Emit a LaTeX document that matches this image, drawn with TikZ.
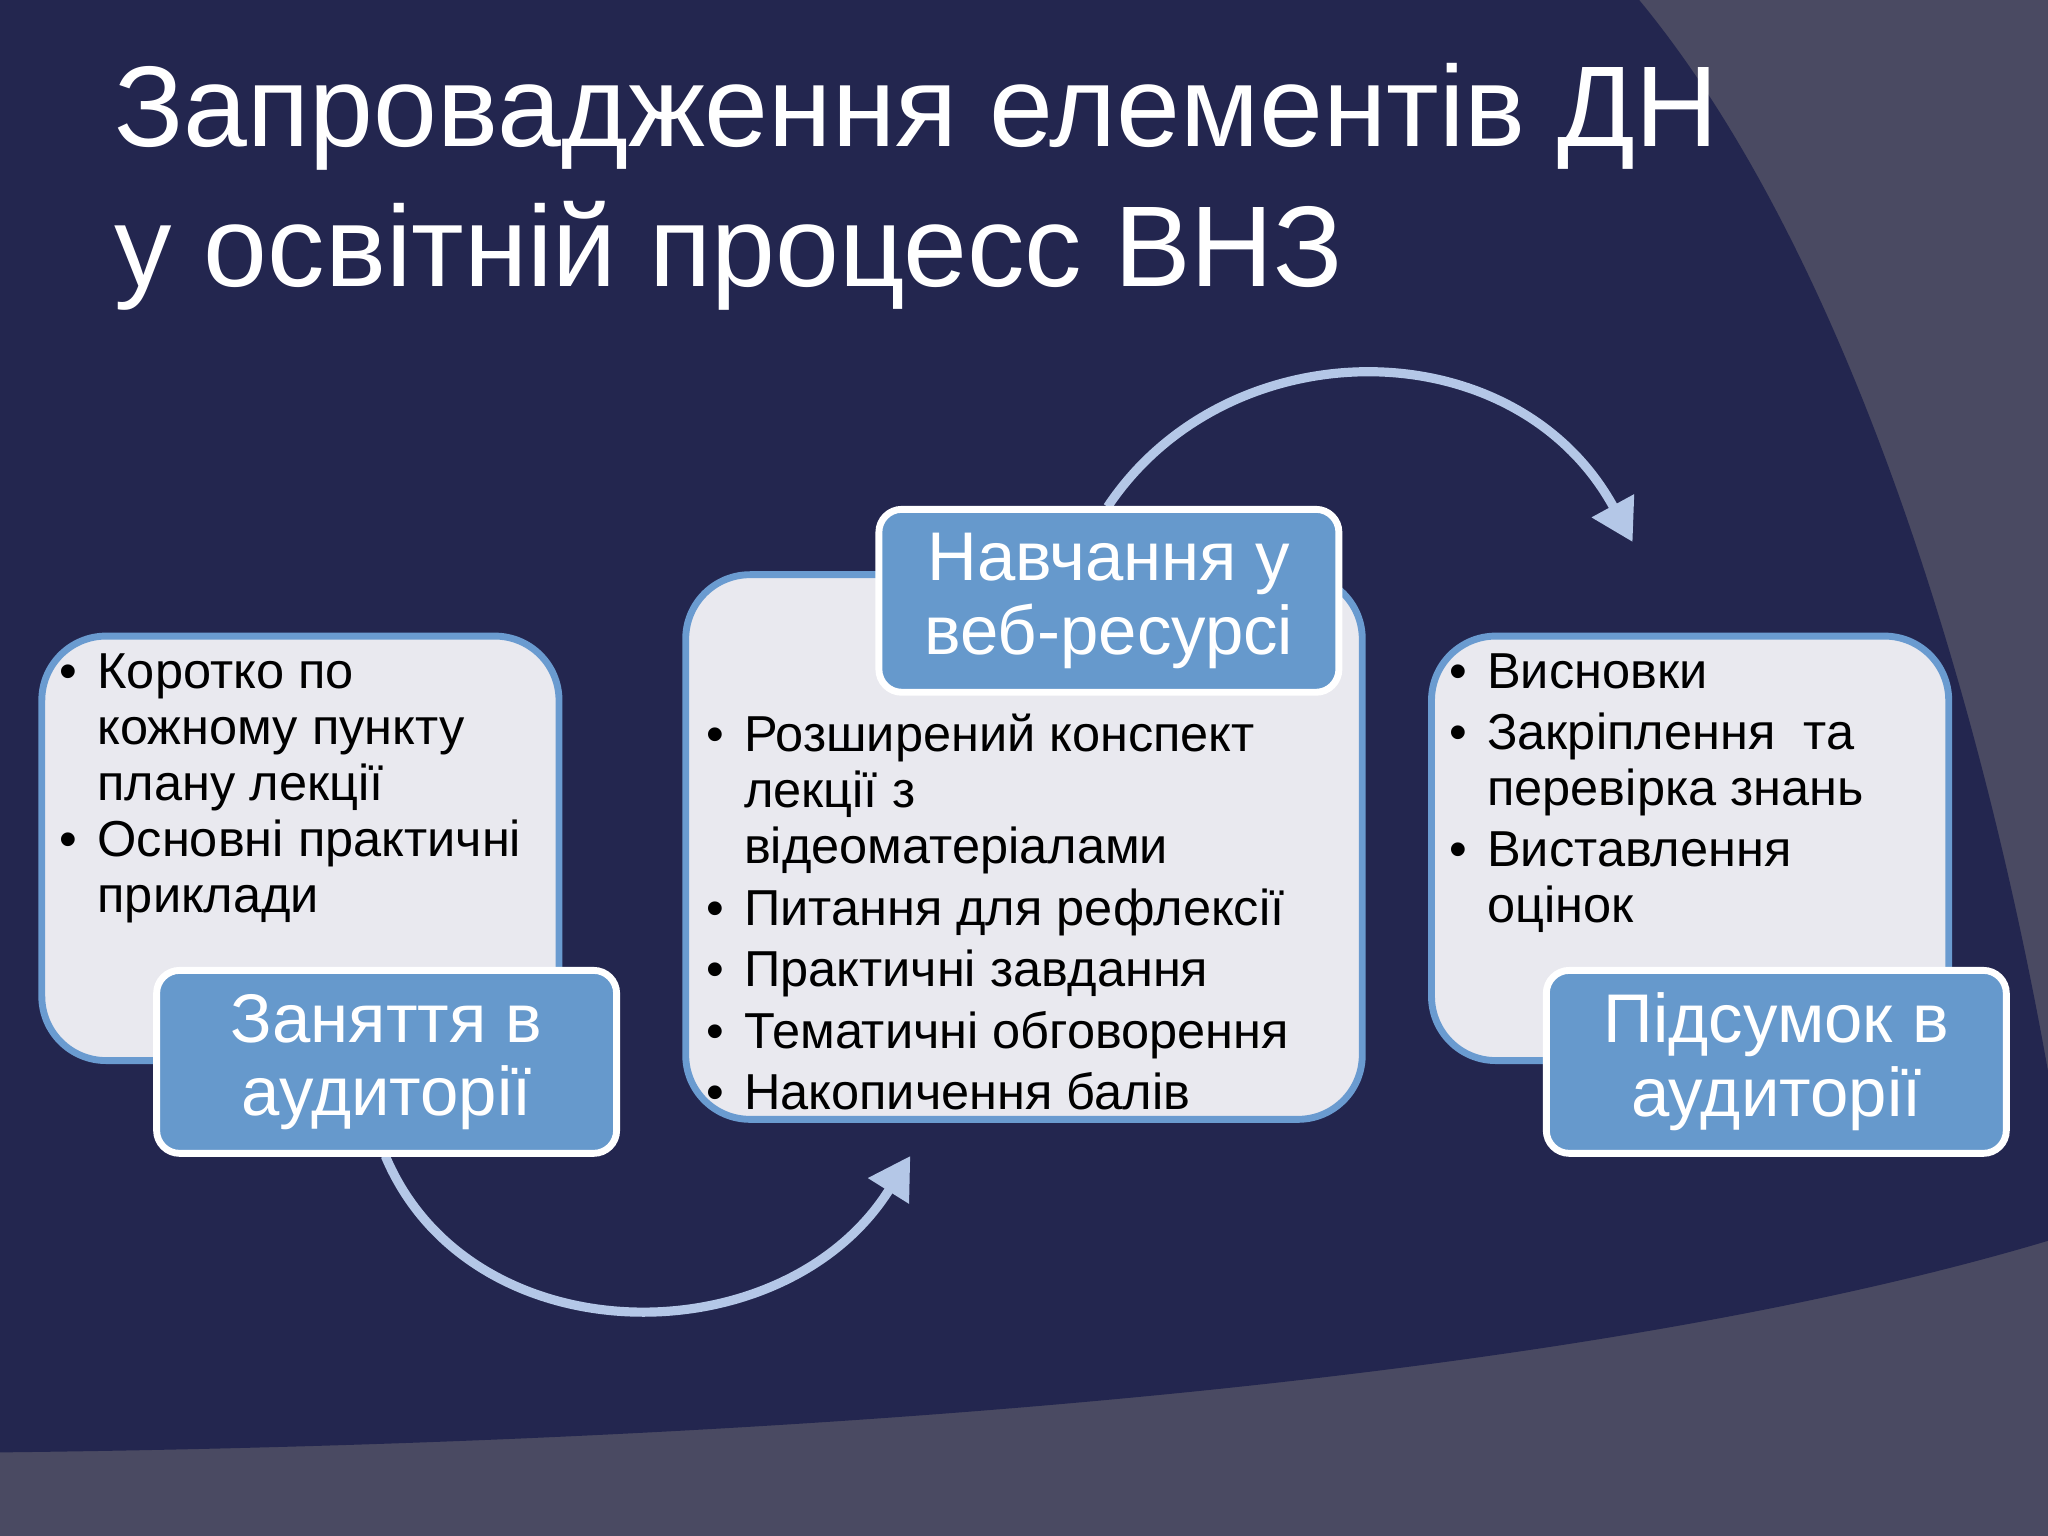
\documentclass[tikz,border=0pt]{standalone}
\usepackage{fontspec}
\setmainfont{Liberation Sans}
\usetikzlibrary{arrows.meta}
\definecolor{navy}{HTML}{23264F}
\definecolor{grayb}{HTML}{4A4A62}
\definecolor{boxf}{HTML}{E9E9EF}
\definecolor{boxd}{HTML}{6A9BD0}
\definecolor{lbl}{HTML}{6699CC}
\definecolor{arc}{HTML}{B4C7E7}
\newcommand{\bul}{\makebox[0.75em][l]{•}}
\newcommand{\ind}{\hspace*{0.75em}}
\tikzset{
 light/.style={fill=boxf,draw=boxd,line width=1.5pt,rounded corners=14pt},
 label/.style={fill=lbl,draw=white,line width=1.5pt,rounded corners=5pt},
 body/.style={anchor=north west,align=left,inner sep=0pt,font=\fontsize{11}{12.2}\selectfont,text=black},
 lbltxt/.style={align=center,text=white,font=\fontsize{15}{16}\selectfont,inner sep=0pt},
 arcline/.style={draw=arc,line width=2pt,-{Triangle[length=9pt,width=10pt]}}
}
\begin{document}
\begin{tikzpicture}[x=0.01cm,y=-0.01cm]
\useasboundingbox (0,0) rectangle (1568,1176);
\fill[grayb] (0,0) rectangle (1568,1176);
\fill[navy] (0,0) -- (1255,0) .. controls (1420,200) and (1520,550) .. (1568,820) -- (1568,950) .. controls (1200,1060) and (600,1105) .. (0,1112) -- cycle;
\node[anchor=north west,text=white,align=left,font=\fontsize{25}{30.5}\selectfont,inner sep=0pt] (title) at (87,48) {Запровадження елементів ДН\\у освітній процесс ВНЗ};
% arcs
\coordinate (a1s) at (295,885); \coordinate (a1e) at (697,885);
\draw[arcline] (a1s) .. controls (360,1040) and (600,1040) .. (a1e);
\coordinate (a2s) at (848,388); \coordinate (a2e) at (1250,415);
\draw[arcline] (a2s) .. controls (940,250) and (1160,250) .. (a2e);
% left
\draw[light] (32,487) rectangle (428,812);
\node[body] (t1) at (45,500) {\bul Коротко по\\\ind кожному пункту\\\ind плану лекції\\\bul Основні практичні\\\ind приклади};
\node[label,minimum width=3.52cm,minimum height=1.4cm] (l1) at (296,813) {};
\node[lbltxt] at (l1) {Заняття в\\аудиторії};
% middle
\draw[light] (525,440) rectangle (1043,857);
\node[body] (t2) at (540,546) {\bul Розширений конспект\\\ind лекції з\\\ind відеоматеріалами\\[1.2pt]\bul Питання для рефлексії\\[1.2pt]\bul Практичні завдання\\[1.2pt]\bul Тематичні обговорення\\[1.2pt]\bul Накопичення балів};
\node[label,minimum width=3.52cm,minimum height=1.4cm] (l2) at (849,460) {};
\node[lbltxt] at (l2) {Навчання у\\веб-ресурсі};
% right
\draw[light] (1096,487) rectangle (1492,812);
\node[body] (t3) at (1109,500) {\bul Висновки\\[1pt]\bul Закріплення\ \ та\\\ind перевірка знань\\[1pt]\bul Виставлення\\\ind оцінок};
\node[label,minimum width=3.52cm,minimum height=1.4cm] (l3) at (1360,813) {};
\node[lbltxt] at (l3) {Підсумок в\\аудиторії};
\end{tikzpicture}
\end{document}
